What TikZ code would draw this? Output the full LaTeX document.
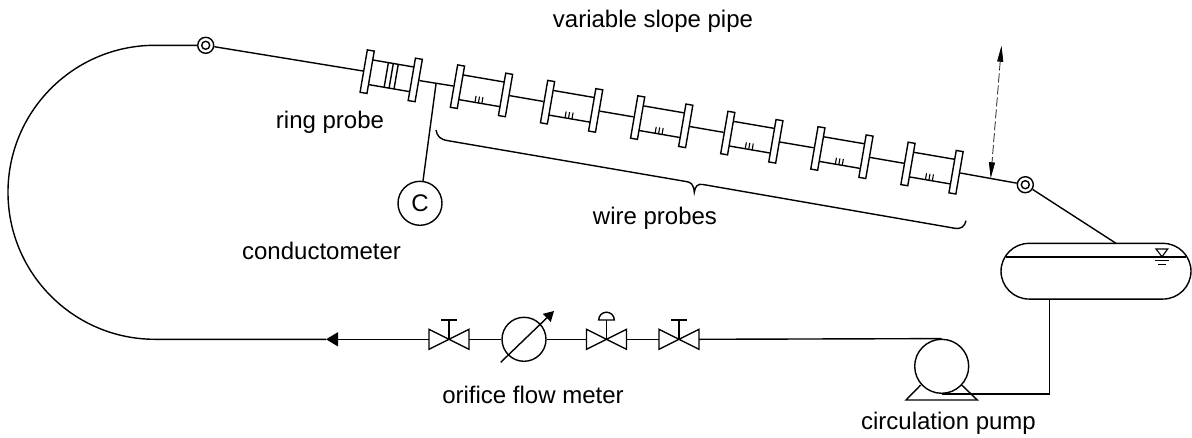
\documentclass[tikz,border=0pt]{standalone}
\usepackage{fontspec}
\setmainfont{Liberation Sans}
\usetikzlibrary{arrows.meta}
\tikzset{
    pipe/.style={line width=1.4pt},
    label/.style={font=\fontsize{24}{26}\selectfont, inner sep=0pt},
    knob/.style={circle, draw, pipe, inner sep=0pt, minimum size=16pt},
    knobeye/.style={circle, draw, pipe, inner sep=0pt, minimum size=8pt},
    flange/.style={rectangle, draw, pipe, fill=white, inner sep=0pt, minimum width=7pt, minimum height=43pt, transform shape},
    wirespool/.pic={
        \node (-l) at (-24.4, 0) [flange] {};
        \node (-r) at (24.4, 0) [flange] {};
        \draw[pipe] (-21, -12.5) -- (21, -12.5);
        \draw[pipe] (-21, 12.5) -- (21, 12.5);
        \draw[line width=1.1pt] (-4.5, 12.5) -- (-4.5, 6) (-1, 12.5) -- (-1, 6) (2.5, 12.5) -- (2.5, 6);
    },
    ringspool/.pic={
        \node (-l) at (-24.4, 0) [flange] {};
        \node (-r) at (24.4, 0) [flange] {};
        \draw[pipe] (-21, -12.5) -- (21, -12.5);
        \draw[pipe] (-21, 12.5) -- (21, 12.5);
        \draw[pipe] (-5, -12.5) -- (-5, 12.5) (0, -12.5) -- (0, 12.5) (5, -12.5) -- (5, 12.5);
    },
    valve/.pic={
        \coordinate (-l) at (-20, 0);
        \coordinate (-r) at (20, 0);
        \draw[pipe, line join=miter] (-20, -10) -- (20, 10) -- (20, -10) -- (-20, 10) -- cycle;
    },
}
\begin{document}
\begin{tikzpicture}[x=1pt, y=-1pt]
    \useasboundingbox (0, 0) rectangle (1192, 437);

    % variable slope section
    \node (kn1) at (205.7, 45.3) [knob] {};
    \node (kn1e) at (205.7, 45.3) [knobeye] {};
    \node (kn2) at (1025.3, 184.7) [knob] {};
    \node (kn2e) at (1025.3, 184.7) [knobeye] {};

    \pic (rp) at (391.2, 75.8) [rotate=-9.75] {ringspool};
    \pic (w1) at (481.5, 90.8) [rotate=-9.75] {wirespool};
    \pic (w2) at (571.6, 106.3) [rotate=-9.75] {wirespool};
    \pic (w3) at (661.7, 121.7) [rotate=-9.75] {wirespool};
    \pic (w4) at (751.8, 137.2) [rotate=-9.75] {wirespool};
    \pic (w5) at (841.9, 152.6) [rotate=-9.75] {wirespool};
    \pic (w6) at (932.0, 168.1) [rotate=-9.75] {wirespool};

    \draw[pipe] (kn1) -- (rp-l);
    \draw[pipe] (rp-r) -- (w1-l);
    \draw[pipe] (w1-r) -- (w2-l);
    \draw[pipe] (w2-r) -- (w3-l);
    \draw[pipe] (w3-r) -- (w4-l);
    \draw[pipe] (w4-r) -- (w5-l);
    \draw[pipe] (w5-r) -- (w6-l);
    \draw[pipe] (w6-r) -- (kn2);

    % conductometer
    \node (cond) at (420, 203.3) [circle, draw, pipe, minimum size=44pt, inner sep=0pt, font=\fontsize{24}{26}\selectfont] {C};
    \coordinate (tap) at (436, 84);
    \draw[pipe] (tap) -- (cond);

    % slope arrow and brace
    \coordinate (up) at (1001.5, 45.7);
    \coordinate (down) at (990.7, 178.3);
    \draw[line width=0.7pt, dash pattern=on 9pt off 3pt, {Triangle[length=16pt, width=6pt]}-{Triangle[length=16pt, width=6pt]}] (up) -- (down);
    \coordinate (br1) at (436, 130);
    \coordinate (brtip) at (694.3, 192.3);
    \coordinate (br2) at (966, 220.7);
    \draw[pipe] (br1) .. controls (437, 136) and (440, 139.5) .. (448, 140.7) -- (686, 181.5)
        .. controls (691, 182.3) and (693.5, 184) .. (brtip)
        .. controls (695, 186) and (698, 183.5) .. (703, 184.5) -- (955, 228.3)
        .. controls (961, 229.5) and (965, 226) .. (br2);

    % tank
    \node (tank) at (1096, 271.2) [rectangle, draw, pipe, rounded corners=28pt, minimum width=190pt, minimum height=55.7pt, inner sep=0pt] {};
    \coordinate (lvl1) at (1006, 257);
    \coordinate (lvl2) at (1186, 257);
    \draw[pipe] (lvl1) -- (lvl2);
    \draw[line width=1.1pt] (1156, 249) -- (1167.7, 249) -- (1162, 256.7) -- cycle;
    \draw[line width=1.1pt] (1155, 260.7) -- (1169, 260.7);
    \draw[line width=1.1pt] (1158, 264.3) -- (1166, 264.3);
    \coordinate (inlet) at (1116, 243.3);
    \draw[pipe] (kn2) -- (inlet);

    % pump
    \draw[pipe] (920.7, 385) -- (906, 400) -- (977.3, 400) -- (961.7, 385);
    \node (pump) at (941.7, 366.3) [circle, draw, pipe, fill=white, minimum size=54pt, inner sep=0pt] {};
    \coordinate (outlet) at (1049.3, 299);
    \draw[pipe] (pump.south) -| (outlet);

    % return line
    \pic (v1) at (449, 339.3) {valve};
    \pic (v2) at (606.5, 339.3) {valve};
    \pic (v3) at (679, 339.3) {valve};
    \node (fm) at (524, 339.3) [circle, draw, pipe, minimum size=44pt, inner sep=0pt] {};
    \coordinate (fm1) at (500.7, 362.3);
    \coordinate (fm2) at (554, 311);
    \draw[pipe, -{Triangle[length=10pt, width=11pt]}] (fm1) -- (fm2);

    \draw[pipe] (449, 339.3) -- (449, 320);
    \draw[pipe] (441, 320) -- (457, 320);
    \draw[pipe] (679, 339.3) -- (679, 320);
    \draw[pipe] (671, 320) -- (687, 320);
    \draw[pipe] (606.5, 339.3) -- (606.5, 320);
    \draw[pipe] (598.7, 320) arc (180:0:7.8pt) -- cycle;

    \coordinate (flow) at (326, 339.3);
    \draw[pipe] (v3-r) -- (pump.north);
    \draw[pipe] (v2-r) -- (v3-l);
    \draw[pipe] (fm) -- (v2-l);
    \draw[pipe] (v1-r) -- (fm);
    \draw[pipe, -{Triangle[length=12pt, width=14pt]}] (v1-l) -- (flow);
    \draw[pipe] (flow) -- (155, 339.3) arc (270:90:147pt) -- (kn1);

    % labels
    \node (t1) at (653, 21) [label] {variable slope pipe};
    \node (t2) at (330, 122) [label] {ring probe};
    \node (t3) at (321.5, 251) [label] {conductometer};
    \node (t4) at (655, 218) [label] {wire probes};
    \node (t5) at (533, 395) [label] {orifice flow meter};
    \node (t6) at (948.5, 423) [label] {circulation pump};
\end{tikzpicture}
\end{document}
